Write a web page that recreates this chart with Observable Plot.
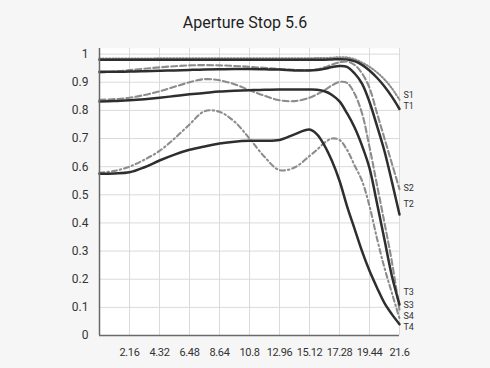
<!DOCTYPE html>
<html>
<head>
<meta charset="utf-8">
<script src="https://cdn.jsdelivr.net/npm/d3@7"></script>
<script src="https://cdn.jsdelivr.net/npm/@observablehq/plot@0.6"></script>
<style>
  html, body { margin: 0; padding: 0; background: #f6f6f6; }
  #wrap { width: 490px; height: 368px; position: relative; overflow: hidden; }
  #title { height: 40px; line-height: 46px; text-align: center; font-family: Roboto, sans-serif; font-size: 16px; color: #1e1e1e; }
  svg [aria-label^="x-axis"] text { font-size: 11px; letter-spacing: -0.4px; }
</style>
</head>
<body>
<div id="wrap">
  <div id="title">Aperture Stop 5.6</div>
  <div id="chart"></div>
</div>
<script>
// shared sample positions (field height, mm)
const xs = [0, 1.08, 2.16, 3.24, 4.32, 5.4, 6.48, 7.56, 8.64, 9.72, 10.8, 11.88, 12.96, 14.04, 15.12, 15.66, 16.2, 16.74, 17.28, 17.82, 18.36, 18.9, 19.44, 19.98, 20.52, 21.06, 21.6];

const s1 = [0.984, 0.984, 0.984, 0.984, 0.985, 0.985, 0.985, 0.985, 0.985, 0.985, 0.985, 0.985, 0.985, 0.985, 0.985, 0.986, 0.986, 0.987, 0.989, 0.988, 0.982, 0.970, 0.955, 0.935, 0.910, 0.878, 0.838];
const t1 = [0.980, 0.980, 0.980, 0.980, 0.980, 0.980, 0.980, 0.980, 0.980, 0.980, 0.980, 0.980, 0.980, 0.980, 0.980, 0.980, 0.980, 0.981, 0.982, 0.981, 0.975, 0.962, 0.942, 0.916, 0.885, 0.848, 0.805];
const s2 = [0.934, 0.938, 0.943, 0.948, 0.953, 0.957, 0.960, 0.961, 0.960, 0.958, 0.955, 0.951, 0.947, 0.944, 0.943, 0.946, 0.953, 0.963, 0.971, 0.974, 0.962, 0.932, 0.880, 0.790, 0.700, 0.610, 0.520];
const t2 = [0.937, 0.937, 0.938, 0.939, 0.941, 0.942, 0.944, 0.945, 0.946, 0.947, 0.947, 0.946, 0.945, 0.942, 0.942, 0.944, 0.948, 0.954, 0.958, 0.955, 0.932, 0.895, 0.830, 0.745, 0.655, 0.545, 0.430];
const s3 = [0.838, 0.840, 0.845, 0.855, 0.868, 0.884, 0.900, 0.911, 0.907, 0.893, 0.872, 0.852, 0.836, 0.833, 0.845, 0.857, 0.872, 0.889, 0.901, 0.898, 0.860, 0.790, 0.670, 0.535, 0.400, 0.260, 0.090];
const t3 = [0.832, 0.833, 0.836, 0.840, 0.845, 0.851, 0.857, 0.862, 0.867, 0.870, 0.872, 0.873, 0.874, 0.874, 0.874, 0.873, 0.868, 0.855, 0.832, 0.790, 0.740, 0.675, 0.595, 0.470, 0.340, 0.210, 0.110];
const s4 = [0.578, 0.585, 0.600, 0.625, 0.656, 0.700, 0.750, 0.797, 0.795, 0.760, 0.700, 0.635, 0.588, 0.597, 0.638, 0.660, 0.685, 0.700, 0.695, 0.660, 0.605, 0.550, 0.460, 0.345, 0.240, 0.150, 0.060];
const t4 = [0.575, 0.576, 0.580, 0.598, 0.622, 0.643, 0.660, 0.672, 0.682, 0.689, 0.692, 0.692, 0.695, 0.715, 0.732, 0.715, 0.675, 0.620, 0.550, 0.460, 0.380, 0.300, 0.230, 0.170, 0.115, 0.075, 0.040];

const xTicks = [2.16, 4.32, 6.48, 8.64, 10.8, 12.96, 15.12, 17.28, 19.44, 21.6];
const xTickLabels = ["2.16", "4.32", "6.48", "8.64", "10.8", "12.96", "15.12", "17.28", "19.44", "21.6"];
const yTicks = [0, 0.1, 0.2, 0.3, 0.4, 0.5, 0.6, 0.7, 0.8, 0.9, 1];
const yTickLabels = ["0", "0.1", "0.2", "0.3", "0.4", "0.5", "0.6", "0.7", "0.8", "0.9", "1"];

const endNames = ["S1", "T1", "S2", "T2", "T3", "S3", "S4", "T4"];
const endLabelY = [0.856, 0.815, 0.523, 0.466, 0.154, 0.107, 0.068, 0.029];

const series = [
  {name: "S1", values: s1, kind: "S", dash: "1.2,2"},
  {name: "T1", values: t1, kind: "T", dash: null},
  {name: "S2", values: s2, kind: "S", dash: "6,3"},
  {name: "T2", values: t2, kind: "T", dash: null},
  {name: "S3", values: s3, kind: "S", dash: "6,3"},
  {name: "T3", values: t3, kind: "T", dash: null},
  {name: "S4", values: s4, kind: "S", dash: "5,3,1.5,3"},
  {name: "T4", values: t4, kind: "T", dash: null}
];

const lineMarks = series.map(s => Plot.line(
  xs.map((x, i) => ({x, y: s.values[i]})),
  {
    x: "x", y: "y", curve: "catmull-rom",
    stroke: s.kind === "T" ? "#2e2e2e" : "#8c8c8c",
    strokeWidth: s.kind === "T" ? 2.5 : 2.1,
    strokeDasharray: s.dash ?? undefined
  }
));

const plot = Plot.plot({
  width: 490,
  height: 328,
  marginTop: 8,
  marginBottom: 33,
  marginLeft: 99,
  marginRight: 91,
  style: {fontFamily: "Roboto, sans-serif", fontSize: "12px", background: "transparent", color: "#333", overflow: "visible"},
  x: {domain: [0, 21.6], ticks: xTicks, tickFormat: d => xTickLabels[xTicks.indexOf(d)], tickSize: 0, tickPadding: 13, label: null},
  y: {domain: [0, 1.02], ticks: yTicks, tickFormat: d => yTickLabels[yTicks.indexOf(d)], tickSize: 0, tickPadding: 11, label: null},
  marks: [
    Plot.frame({fill: "white", stroke: "none"}),
    Plot.ruleX(xTicks, {stroke: "#dadada", strokeWidth: 1}),
    Plot.ruleY(yTicks.filter(d => d > 0), {stroke: "#dadada", strokeWidth: 1}),
    ...lineMarks,
    Plot.ruleX([0], {stroke: "#6a6a6a", strokeWidth: 1.5}),
    Plot.ruleY([0], {stroke: "#6a6a6a", strokeWidth: 1.5}),
    Plot.text(endNames.map((n, i) => ({n, y: endLabelY[i]})), {
      x: () => 21.6, y: "y", text: "n", dx: 4, textAnchor: "start",
      fontSize: 9, fill: "#333"
    })
  ]
});
document.getElementById("chart").appendChild(plot);
</script>
</body>
</html>
